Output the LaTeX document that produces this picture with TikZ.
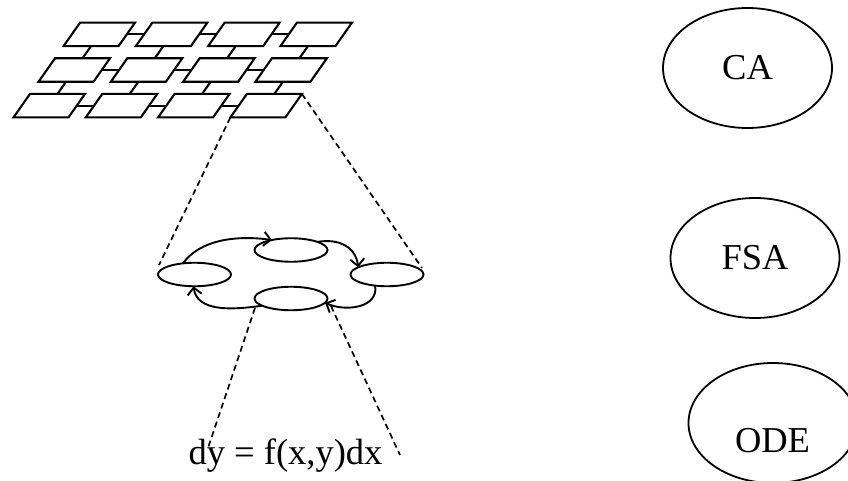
\documentclass[tikz,border=0pt]{standalone}
\usepackage{fontspec}
\setmainfont{Liberation Serif}
\usetikzlibrary{arrows.meta,shapes.geometric,calc}
\begin{document}
\begin{tikzpicture}[x=1pt,y=-1pt,
  cell/.style={draw,line width=2.1pt,line join=miter},
  link/.style={line width=2.1pt},
  state/.style={ellipse,draw,line width=1.9pt,minimum width=73pt,minimum height=23.5pt,inner sep=0pt,outer sep=0pt},
  big/.style={ellipse,draw,line width=1.8pt,minimum width=169pt,minimum height=120pt,inner sep=0pt,outer sep=0pt},
  lbl/.style={font=\fontsize{36.5}{40}\selectfont,inner sep=0pt},
  trans/.style={line width=1.9pt,-{Straight Barb[length=7pt,width=14pt,line width=1.9pt]}},
  guide/.style={line width=1.7pt,dash pattern=on 6pt off 4pt}]
\useasboundingbox (0,0) rectangle (848,481);

% grid of parallelogram cells
\foreach \c in {0,1,2,3}{
  \foreach \r in {0,1,2}{
    \coordinate (g\c\r) at ({80+72.3*\c-25*\r},{22.7+35.6*\r});
    \coordinate (e\c\r) at ($(g\c\r)+(46.75,11.75)$);
    \coordinate (w\c\r) at ($(g\c\r)+(-8.25,11.75)$);
    \coordinate (n\c\r) at ($(g\c\r)+(27.5,0)$);
    \coordinate (s\c\r) at ($(g\c\r)+(11,23.5)$);
    \draw[cell] (g\c\r) -- ++(55,0) -- ++(-16.5,23.5) -- ++(-55,0) -- cycle;
  }
}
\foreach \c in {0,1,2}{
  \pgfmathtruncatemacro{\d}{\c+1}
  \foreach \r in {0,1,2}{
    \draw[link] (e\c\r) -- (w\d\r);
  }
}
\foreach \c in {0,1,2,3}{
  \foreach \r in {0,1}{
    \pgfmathtruncatemacro{\q}{\r+1}
    \draw[link] (s\c\r) -- (n\c\q);
  }
}
\coordinate (gne) at ($(g32)+(55,0)$);
\coordinate (gsw) at ($(g32)+(-16.5,23.5)$);

% automaton
\node[state] (s1) at (194.5,274.5) {};
\node[state] (s2) at (291,250) {};
\node[state] (s3) at (387,274.5) {};
\node[state] (s4) at (291,298.5) {};

\draw[trans] (s1.136) .. controls (200,240) and (235,235) .. (s2.152);
\draw[trans] (s2.17) .. controls (340,238) and (356,248) .. (s3.166);
\draw[trans] (s3.223) .. controls (379,308) and (345,312) .. (s4.-7);
\draw[trans] (s4.194) .. controls (232,310) and (197,312) .. (s1.265);

% equation
\node[lbl,anchor=base] (eq) at (285.5,464) {dy = f(x,y)dx};

% dashed guides
\coordinate (la) at (159,265);
\coordinate (ra) at (422,268);
\coordinate (lb0) at (255,308);
\coordinate (rb0) at (331,306);
\coordinate (lb) at (208,448);
\coordinate (rb) at (400,455);
\draw[guide] (gsw) -- (la);
\draw[guide] (gne) -- (ra);
\draw[guide] (lb0) -- (lb);
\draw[guide] (rb0) -- (rb);

% right-hand labels
\node[big,lbl] (ca) at (747.5,68) {CA};
\node[big,lbl] (fsa) at (755,258) {FSA};
\node[big] (ode) at (773,423) {};
\node[lbl] (odet) at (772.5,440.5) {ODE};
\end{tikzpicture}
\end{document}
